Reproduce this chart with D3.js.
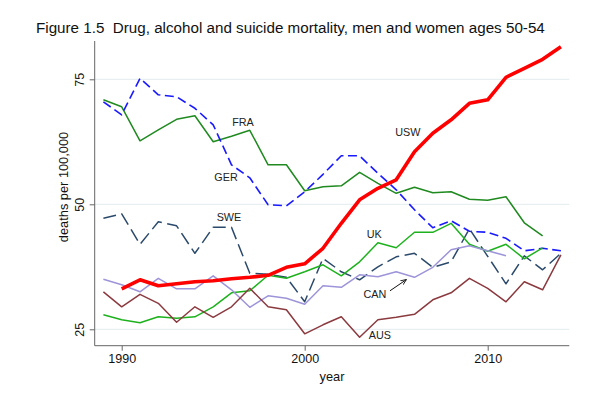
<!DOCTYPE html>
<html>
<head>
<meta charset="utf-8">
<script src="https://cdn.jsdelivr.net/npm/d3@7"></script>
<style>
  html, body { margin: 0; padding: 0; background: #fff; }
  svg { display: block; }
</style>
</head>
<body>
<svg id="chart" width="614" height="397"></svg>
<script>
// ---- Data ----
const titleText = "Figure 1.5  Drug, alcohol and suicide mortality, men and women ages 50-54";
const xTicks = [1990, 2000, 2010];
const yTicks = [25, 50, 75];

const usaYears = [1990,1991,1992,1993,1994,1995,1996,1997,1998,1999,2000,2001,2002,2003,2004,2005,2006,2007,2008,2009,2010,2011,2012,2013,2014];
const usaValues = [33.1,34.9,33.7,34.1,34.5,34.7,35.1,35.4,35.8,37.4,38.1,41.2,46.2,50.9,53.2,54.9,60.5,64.2,66.9,70.2,70.9,75.4,77.2,79.0,81.5];

const fraYears = [1989,1990,1991,1992,1993,1994,1995,1996,1997,1998,1999,2000,2001,2002,2003,2004,2005,2006,2007,2008,2009,2010,2011,2012,2013];
const fraValues = [70.9,69.5,62.7,64.9,67.0,67.7,62.5,63.6,64.8,57.9,57.9,52.7,53.5,53.7,56.4,54.2,52.2,53.4,52.3,52.5,51.0,50.8,51.5,46.3,43.7];

const gerYears = [1989,1990,1991,1992,1993,1994,1995,1996,1997,1998,1999,2000,2001,2002,2003,2004,2005,2006,2007,2008,2009,2010,2011,2012,2013,2014];
const gerValues = [70.5,67.9,75.2,71.9,71.5,69.2,65.9,57.9,55.3,49.9,49.7,52.5,56.0,59.7,59.7,56.2,52.9,48.9,45.3,46.7,44.6,44.4,43.2,40.7,41.2,40.7];

const sweYears = [1989,1990,1991,1992,1993,1994,1995,1996,1997,1998,1999,2000,2001,2002,2003,2004,2005,2006,2007,2008,2009,2010,2011,2012,2013,2014];
const sweValues = [47.2,48.1,42.0,46.5,45.7,40.2,45.4,45.4,36.2,36.0,35.4,30.5,39.2,36.5,34.9,37.5,39.5,40.2,37.4,38.5,45.1,39.6,34.1,39.7,36.9,40.2];

const ukYears = [1989,1990,1991,1992,1993,1994,1995,1996,1997,1998,1999,2000,2001,2002,2003,2004,2005,2006,2007,2008,2009,2010,2011,2012,2013];
const ukValues = [27.9,26.9,26.3,27.5,27.2,27.5,29.5,32.3,32.7,35.8,35.2,36.5,37.9,35.7,38.5,42.3,41.3,44.4,44.4,46.2,42.0,40.6,42.0,39.1,41.3];

const canYears = [1989,1990,1991,1992,1993,1994,1995,1996,1997,1998,1999,2000,2001,2002,2003,2004,2005,2006,2007,2008,2009,2010,2011];
const canValues = [35.0,33.9,32.5,35.2,33.1,33.1,35.7,32.9,29.4,31.7,31.2,30.0,33.7,33.4,35.9,35.5,36.5,35.4,37.4,40.9,41.7,40.7,39.7];

const ausYears = [1989,1990,1991,1992,1993,1994,1995,1996,1997,1998,1999,2000,2001,2002,2003,2004,2005,2006,2007,2008,2009,2010,2011,2012,2013,2014];
const ausValues = [32.5,29.5,32.0,30.2,26.4,29.5,27.4,29.5,33.2,29.5,28.9,24.1,25.9,27.5,23.4,26.9,27.4,28.0,30.9,32.3,35.2,33.2,30.5,34.5,32.9,39.9];

// label anchors in data units (year, value)
const labelNames = ["FRA","GER","SWE","USW","UK","CAN","AUS"];
const labelYears = [1996.63,1995.7,1995.86,2005.64,2003.8,2003.84,2004.11];
const labelValues = [66.5,55.5,47.5,64.5,44.1,32.1,23.9];
const arrowFrom = [2004.66, 32.7];
const arrowTo = [2005.54, 34.9];

// ---- Build ----
const svg = d3.select("#chart");
const x = d3.scaleLinear().domain([1990, 2010]).range([121.7, 487.7]);
const y = d3.scaleLinear().domain([25, 75]).range([329.3, 79.3]);
const plotLeft = 94.7, plotRight = 569.3, plotBottom = 345.7, plotTop = 41;

const font = "'Liberation Sans', Arial, sans-serif";

// title
svg.append("text")
  .attr("x", 36).attr("y", 33)
  .attr("font-family", "'Liberation Sans Narrow', 'Arial Narrow', 'Liberation Sans', sans-serif")
  .attr("font-size", 15.2)
  .attr("fill", "#111")
  .style("white-space", "pre")
  .attr("xml:space", "preserve")
  .text(titleText);

// gridlines
svg.append("g").selectAll("line").data(yTicks).join("line")
  .attr("x1", plotLeft).attr("x2", plotRight)
  .attr("y1", d => y(d)).attr("y2", d => y(d))
  .attr("stroke", "#e3ecee").attr("stroke-width", 1);

// axes
const xAxis = d3.axisBottom(x).tickValues(xTicks).tickFormat(d3.format("d")).tickSize(5).tickPadding(3).tickSizeOuter(0);
const gx = svg.append("g").attr("transform", `translate(0,${plotBottom})`).call(xAxis);
gx.select(".domain").remove();
gx.append("line").attr("x1", plotLeft).attr("x2", plotRight).attr("y1", 0).attr("y2", 0).attr("stroke", "#666");
gx.selectAll(".tick line").attr("stroke", "#666");
gx.selectAll(".tick text").attr("font-family", font).attr("font-size", 12.5).attr("fill", "#111");

const yAxis = d3.axisLeft(y).tickValues(yTicks).tickSize(5).tickSizeOuter(0);
const gy = svg.append("g").attr("transform", `translate(${plotLeft},0)`).call(yAxis);
gy.select(".domain").remove();
gy.append("line").attr("x1", 0).attr("x2", 0).attr("y1", plotTop).attr("y2", plotBottom).attr("stroke", "#666");
gy.selectAll(".tick line").attr("stroke", "#666");
gy.selectAll(".tick text")
  .attr("font-family", font).attr("font-size", 12.5).attr("fill", "#111")
  .attr("text-anchor", "middle")
  .attr("x", null).attr("dy", null)
  .attr("transform", "translate(-11,0) rotate(-90)")
  .attr("y", 0);

// axis titles
svg.append("text")
  .attr("transform", "translate(68,187) rotate(-90)")
  .attr("text-anchor", "middle")
  .attr("font-family", font).attr("font-size", 12.8).attr("fill", "#111")
  .text("deaths per 100,000");
svg.append("text")
  .attr("x", 332).attr("y", 381)
  .attr("text-anchor", "middle")
  .attr("font-family", font).attr("font-size", 12.8).attr("fill", "#111")
  .text("year");

// series
const series = [
  {years: usaYears, values: usaValues, color: "#ff0000", width: 3.6, dash: null},
  {years: fraYears, values: fraValues, color: "#1f8a1f", width: 1.5, dash: null},
  {years: gerYears, values: gerValues, color: "#1a1aff", width: 1.6, dash: "9,4.5"},
  {years: sweYears, values: sweValues, color: "#2b4a6b", width: 1.5, dash: "13,5.5"},
  {years: ukYears, values: ukValues, color: "#1db21d", width: 1.5, dash: null},
  {years: canYears, values: canValues, color: "#9d94d9", width: 1.5, dash: null},
  {years: ausYears, values: ausValues, color: "#8b3a3f", width: 1.5, dash: null}
];
const line = d3.line().x(d => x(d[0])).y(d => y(d[1]));
const order = [1, 2, 3, 4, 5, 6, 0];
order.forEach(i => {
  const s = series[i];
  svg.append("path")
    .datum(d3.zip(s.years, s.values))
    .attr("d", line)
    .attr("fill", "none")
    .attr("stroke", s.color)
    .attr("stroke-width", s.width)
    .attr("stroke-linejoin", "round")
    .attr("stroke-dasharray", s.dash);
});

// labels
svg.append("g").selectAll("text").data(d3.range(labelNames.length)).join("text")
  .attr("x", i => x(labelYears[i]))
  .attr("y", i => y(labelValues[i]) + 3.8)
  .attr("text-anchor", "middle")
  .attr("font-family", font).attr("font-size", 10.8).attr("fill", "#222")
  .text(i => labelNames[i]);

// arrow
svg.append("defs").append("marker")
  .attr("id", "arr").attr("viewBox", "0 0 10 10").attr("refX", 9).attr("refY", 5)
  .attr("markerWidth", 6).attr("markerHeight", 6).attr("orient", "auto")
  .append("path").attr("d", "M0,1 L10,5 L0,9").attr("fill", "none").attr("stroke", "#111").attr("stroke-width", 1.4);
svg.append("line")
  .attr("x1", x(arrowFrom[0])).attr("y1", y(arrowFrom[1]))
  .attr("x2", x(arrowTo[0])).attr("y2", y(arrowTo[1]))
  .attr("stroke", "#111").attr("stroke-width", 1)
  .attr("marker-end", "url(#arr)");
</script>
</body>
</html>
